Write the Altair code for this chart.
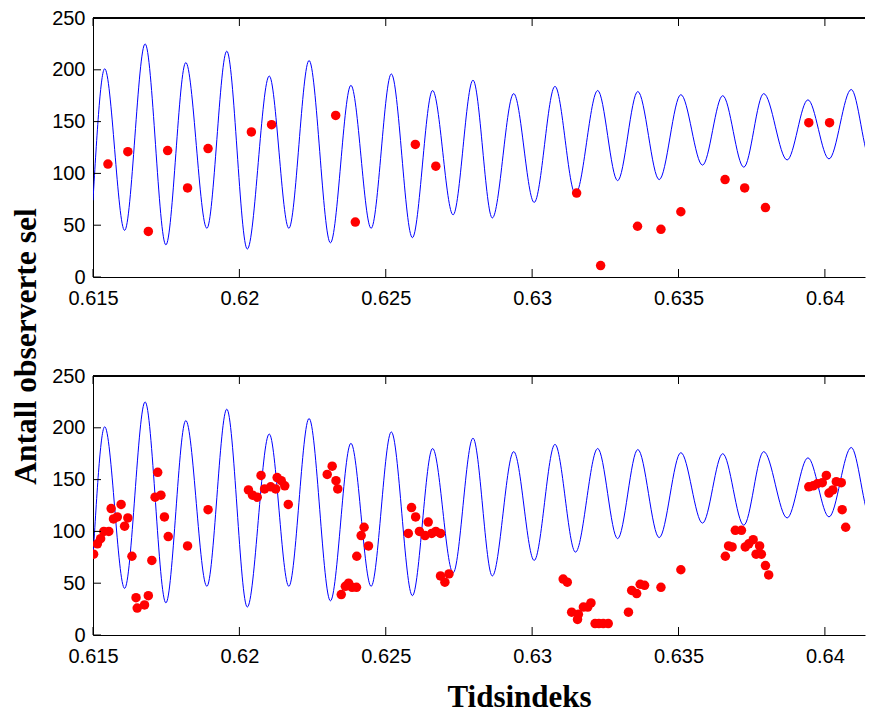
import altair as alt
import pandas as pd

# Blue signal: local extremes (time, value)
line_t = [0.61500, 0.61540, 0.61608, 0.61678, 0.61749, 0.61817, 0.61889, 0.61957,
          0.62027, 0.62102, 0.62169, 0.62238, 0.62311, 0.62381, 0.62450, 0.62519,
          0.62591, 0.62660, 0.62730, 0.62798, 0.62864, 0.62937, 0.63007, 0.63078,
          0.63148, 0.63224, 0.63292, 0.63361, 0.63434, 0.63508, 0.63582, 0.63651,
          0.63723, 0.63791, 0.63871, 0.63942, 0.64014, 0.64090, 0.64156, 0.64180]
line_v = [74, 201, 45, 225, 31, 207, 47, 218,
          27, 194, 47, 209, 33, 185, 47, 196,
          38, 180, 60, 190, 57, 177, 72, 184,
          80, 180, 93, 179, 94, 176, 108, 175,
          106, 177, 113, 171, 114, 181, 113, 113]

# Red observations, upper panel
top_t = [0.61551, 0.61619, 0.61689, 0.61755, 0.61823, 0.61893, 0.62041, 0.62110,
         0.62329, 0.62396, 0.62601, 0.62671, 0.63152, 0.63234, 0.63360, 0.63440,
         0.63508, 0.63659, 0.63726, 0.63797, 0.63945, 0.64016]
top_v = [109, 121, 44, 122, 86, 124, 140, 147,
         156, 53, 128, 107, 81, 11, 49, 46,
         63, 94, 86, 67, 149, 149]

# Red observations, lower panel
bot_t = [0.61502, 0.61515, 0.61526, 0.61537, 0.61554, 0.61562, 0.61570, 0.61583,
         0.61596, 0.61608, 0.61619, 0.61633, 0.61647, 0.61651, 0.61676, 0.61689,
         0.61701, 0.61712, 0.61721, 0.61732, 0.61744, 0.61757, 0.61823, 0.61893,
         0.62031, 0.62045, 0.62061, 0.62074, 0.62086, 0.62107, 0.62124, 0.62129,
         0.62143, 0.62155, 0.62167, 0.62300, 0.62317, 0.62330, 0.62336, 0.62348,
         0.62362, 0.62373, 0.62385, 0.62400, 0.62401, 0.62416, 0.62426, 0.62441,
         0.62577, 0.62588, 0.62602, 0.62615, 0.62634, 0.62645, 0.62657, 0.62671,
         0.62687, 0.62687, 0.62702, 0.62716,
         0.63106, 0.63120, 0.63135, 0.63155, 0.63158, 0.63175, 0.63190, 0.63201,
         0.63215, 0.63228, 0.63243, 0.63260, 0.63329, 0.63340, 0.63357, 0.63369,
         0.63384, 0.63440, 0.63508, 0.63660, 0.63671, 0.63683, 0.63694, 0.63715,
         0.63728, 0.63740, 0.63755, 0.63765, 0.63777, 0.63783, 0.63797, 0.63808,
         0.63945, 0.63960, 0.63974, 0.63991, 0.64005, 0.64014, 0.64027, 0.64039,
         0.64056, 0.64059, 0.64071]
bot_v = [78, 88, 93, 100, 100, 122, 112, 114,
         126, 105, 113, 76, 36, 26, 29, 38,
         72, 133, 157, 135, 114, 95, 86, 121,
         140, 135, 133, 154, 141, 143, 141, 152,
         149, 144, 126, 155, 163, 149, 141, 39,
         47, 50, 46, 46, 76, 96, 104, 86,
         98, 123, 114, 100, 96, 109, 98, 100,
         98, 57, 51, 59,
         54, 51, 22, 15, 20, 27, 27, 31,
         11, 11, 11, 11, 22, 43, 40, 49,
         48, 46, 63, 76, 86, 85, 101, 101,
         85, 88, 92, 78, 86, 78, 67, 58,
         143, 144, 146, 147, 154, 137, 140, 148,
         147, 121, 104]

x_ticks = [0.615, 0.62, 0.625, 0.63, 0.635, 0.64]
y_ticks = [0, 50, 100, 150, 200, 250]

W, H = 772, 259
TL = 8
xs = alt.Scale(domain=[0.615, 0.64137], nice=False, zero=False)
ys = alt.Scale(domain=[0, 250], nice=False, zero=False)

LABEL_FONT = "Liberation Sans"
TITLE_FONT = "Liberation Serif"


def panel(dt, dv, xtitle, ytitle):
    line_df = pd.DataFrame({"t": line_t, "v": line_v})
    dot_df = pd.DataFrame({"t": dt, "v": dv})
    xt_df = pd.DataFrame({"t": x_ticks})
    yt_df = pd.DataFrame({"v": y_ticks})

    xaxis_kw = dict(values=x_ticks, format=".3~f", labelPadding=11, ticks=False,
                    domain=True, domainColor="black", domainWidth=1, grid=False,
                    labelFlush=False, labelOverlap=False, labelFont=LABEL_FONT,
                    labelFontSize=20, labelColor="black")
    if xtitle:
        xaxis_kw.update(title=xtitle, titleFont=TITLE_FONT, titleFontSize=31,
                        titleFontWeight="bold", titleColor="black", titleX=426,
                        titleY=71, titleAlign="center", titleBaseline="alphabetic")
    else:
        xaxis_kw.update(title=None)
    yaxis_kw = dict(values=y_ticks, labelPadding=8, ticks=False, domain=True,
                    domainColor="black", domainWidth=1, grid=False, labelFlush=False,
                    labelOverlap=False, labelFont=LABEL_FONT, labelFontSize=20,
                    labelColor="black")
    if ytitle:
        yaxis_kw.update(title=ytitle, titleFont=TITLE_FONT, titleFontSize=31.5,
                        titleFontWeight="bold", titleColor="black", titleX=-57.7,
                        titleY=328, titleAngle=270, titleAlign="center",
                        titleBaseline="alphabetic")
    else:
        yaxis_kw.update(title=None)

    line = alt.Chart(line_df).mark_line(
        color="#0000ff", strokeWidth=1, interpolate="monotone", clip=True
    ).encode(
        x=alt.X("t:Q", scale=xs, axis=alt.Axis(**xaxis_kw)),
        y=alt.Y("v:Q", scale=ys, axis=alt.Axis(**yaxis_kw)),
    )
    dots = alt.Chart(dot_df).mark_circle(
        color="#ff0000", size=90, opacity=1, clip=True
    ).encode(x="t:Q", y="v:Q")
    xbot = alt.Chart(xt_df).mark_rule(color="black", strokeWidth=1).encode(
        x="t:Q", y=alt.value(H), y2=alt.value(H - TL))
    xtop = alt.Chart(xt_df).mark_rule(color="black", strokeWidth=1).encode(
        x="t:Q", y=alt.value(0), y2=alt.value(TL))
    frame_top = alt.Chart(xt_df).mark_rule(color="black", strokeWidth=1).encode(
        x=alt.value(0), x2=alt.value(W), y=alt.value(0))
    yl = alt.Chart(yt_df).mark_rule(color="black", strokeWidth=1).encode(
        y="v:Q", x=alt.value(0), x2=alt.value(TL))
    return alt.layer(line, dots, xbot, xtop, frame_top, yl).properties(width=W, height=H)


top = panel(top_t, top_v, None, "Antall observerte sel")
bottom = panel(bot_t, bot_v, "Tidsindeks", None)

chart = alt.vconcat(top, bottom, spacing=99, bounds="flush").properties(
    padding={"left": 2, "top": 0, "right": 0, "bottom": 0}, background="white"
).configure_view(stroke=None)

chart.save("out.html", embed_options={"renderer": "svg", "actions": False})
